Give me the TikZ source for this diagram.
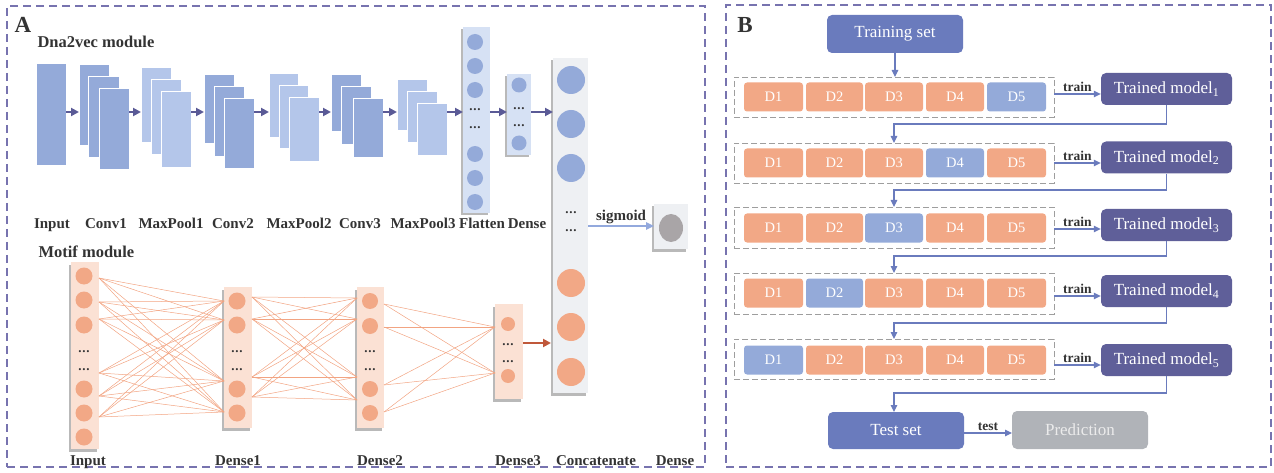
\documentclass[tikz,border=0pt]{standalone}
\usepackage{fontspec}
\setmainfont{Liberation Serif}
\usetikzlibrary{arrows.meta,calc,shadows,shapes.geometric}
\definecolor{frame}{HTML}{7773AF}
\definecolor{cdark}{HTML}{94AAD9}
\definecolor{clight}{HTML}{B4C6EA}
\definecolor{corange}{HTML}{F2A886}
\definecolor{colblue}{HTML}{D6E1F4}
\definecolor{colpeach}{HTML}{FBE1D4}
\definecolor{colgrey}{HTML}{EEF0F3}
\definecolor{arrdark}{HTML}{5A5A96}
\definecolor{arrred}{HTML}{C0583A}
\definecolor{lineor}{HTML}{F2A482}
\definecolor{bblue}{HTML}{6A7BBD}
\definecolor{bdark}{HTML}{5F5F99}
\definecolor{bgrey}{HTML}{B0B3B8}
\definecolor{sigblue}{HTML}{93A9DD}
\definecolor{outgrey}{HTML}{A9A5A7}
\definecolor{txt}{HTML}{333333}
\newcommand{\bx}[7]{\node[#6,anchor=north west,inner sep=0pt,outer sep=0pt,minimum width={(#4-#2)*1pt},minimum height={(#5-#3)*1pt}] (#1) at (#2,#3) {#7};}
\newcommand{\mydots}{\textbf{.\kern0.8pt.\kern0.8pt.}}
\tikzset{
 conv/.style={fill=cdark, draw=white, line width=0.6pt},
 pool/.style={fill=clight, draw=white, line width=0.6pt},
 col/.style={drop shadow={shadow xshift=-2.5pt, shadow yshift=-2.5pt, fill=black!55, opacity=0.5}},
 bc/.style={circle, fill=cdark, inner sep=0pt},
 oc/.style={circle, fill=corange, inner sep=0pt},
 dots/.style={inner sep=0pt, text=txt, font=\fontsize{13}{13}\selectfont},
 arr/.style={draw=arrdark, line width=2pt, -{Triangle[length=8pt,width=8pt]}},
 mlink/.style={draw=lineor, line width=0.5pt},
 lab/.style={anchor=base, text=txt, font=\fontsize{15}{15}\selectfont\bfseries},
 title/.style={anchor=base west, text=txt, font=\fontsize{16.5}{16.5}\selectfont\bfseries},
 panel/.style={draw=frame, line width=1.3pt, dash pattern=on 8pt off 5pt},
 fold/.style={draw=black!38, line width=0.9pt, dash pattern=on 6pt off 3pt},
 cell/.style={rounded corners=3pt, text=white, inner sep=0pt, font=\fontsize{14.5}{14.5}\selectfont},
 bigbox/.style={rounded corners=5pt, text=white, font=\fontsize{17}{17}\selectfont},
 tmbox/.style={rounded corners=5pt, fill=bdark, text=white, inner sep=0pt, minimum width=131pt, minimum height=32pt, font=\fontsize{17}{17}\selectfont},
 barr/.style={draw=bblue, line width=1.1pt, -{Triangle[length=7pt,width=6.5pt]}},
 small/.style={text=txt, font=\fontsize{13.5}{13.5}\selectfont\bfseries, inner sep=1.5pt},
}
\begin{document}
\begin{tikzpicture}[x=1pt,y=-1pt]
\useasboundingbox (0,0) rectangle (1274,473);
% panels
\bx{pa}{7}{6}{705}{467}{panel}{}
\bx{pb}{726}{5}{1271}{467}{panel}{}
\node[text=txt, font=\fontsize{23}{23}\selectfont\bfseries] (la) at (23,25) {A};
\node[text=txt, font=\fontsize{23}{23}\selectfont\bfseries] (lb) at (745,25) {B};
\node[title] (t1) at (34,48) {Dna2vec module};
\node[title] (t2) at (35,257) {Motif module};
% Dna2vec stacks
\bx{in}{36}{63}{66}{165}{conv}{}
\bx{c1a}{79}{64}{109}{145}{conv}{}
\bx{c1b}{88}{76}{119}{157}{conv}{}
\bx{c1c}{99}{88}{129}{169}{conv}{}
\bx{p1a}{141}{67}{171}{142}{pool}{}
\bx{p1b}{151}{79}{181}{154}{pool}{}
\bx{p1c}{161}{91}{191}{167}{pool}{}
\bx{c2a}{204}{74}{234}{143}{conv}{}
\bx{c2b}{214}{86}{244}{156}{conv}{}
\bx{c2c}{224}{98}{254}{168}{conv}{}
\bx{p2a}{269}{73}{298}{137}{pool}{}
\bx{p2b}{279}{85}{308}{148}{pool}{}
\bx{p2c}{289}{97}{319}{161}{pool}{}
\bx{c3a}{331}{74}{361}{131}{conv}{}
\bx{c3b}{341}{86}{371}{144}{conv}{}
\bx{c3c}{353}{98}{383}{157}{conv}{}
\bx{p3a}{397}{79}{427}{130}{pool}{}
\bx{p3b}{407}{91}{437}{142}{pool}{}
\bx{p3c}{417}{103}{447}{155}{pool}{}
% flatten
\bx{flat}{463}{27}{490}{213}{col,fill=colblue}{}
\foreach \i/\y in {1/42,2/66,3/90,4/154,5/178,6/202}{\node[bc, minimum size=16pt] (f\i) at (475,\y) {};}
\node[dots] (fd1) at (475,110) {\mydots};
\node[dots] (fd2) at (475,128) {\mydots};
% dense top
\bx{dt}{507}{74}{531}{155}{col,fill=colblue}{}
\node[bc, minimum size=15pt] (dt1) at (519,85) {};
\node[bc, minimum size=15pt] (dt2) at (519,143) {};
\node[dots] (dtd1) at (519,109) {\mydots};
\node[dots] (dtd2) at (519,126) {\mydots};
% concatenate
\bx{cat}{553}{58}{588}{393}{col,fill=colgrey}{}
\foreach \i/\y in {1/80,2/124,3/168}{\node[bc, minimum size=28pt] (cb\i) at (571,\y) {};}
\foreach \i/\y in {1/283,2/327,3/372}{\node[oc, minimum size=28pt] (co\i) at (571,\y) {};}
\node[dots] (cd1) at (571,213) {\mydots};
\node[dots] (cd2) at (571,231) {\mydots};
% sigmoid output
\bx{sig}{654}{204}{688}{249}{col,fill=colgrey}{}
\node[ellipse, fill=outgrey, inner sep=0pt, minimum width=24pt, minimum height=28pt] (out) at (671,228) {};
% top arrows
\coordinate (ay) at (0,112);
\draw[arr] (in.east|-ay) -- (c1a.west|-ay);
\draw[arr] (c1c.east|-ay) -- (p1a.west|-ay);
\draw[arr] (p1c.east|-ay) -- (c2a.west|-ay);
\draw[arr] (c2c.east|-ay) -- (p2a.west|-ay);
\draw[arr] (p2c.east|-ay) -- (c3a.west|-ay);
\draw[arr] (c3c.east|-ay) -- (p3a.west|-ay);
\draw[arr] (p3c.east|-ay) -- (flat.west|-ay);
\draw[arr] (flat.east|-ay) -- (dt.west|-ay);
\draw[arr] (dt.east|-ay) -- (cat.west|-ay);
\draw[draw=sigblue, line width=1.6pt, -{Triangle[length=8pt,width=7.5pt]}] (cat.east|-0,226) -- (sig.west|-0,226) node[midway, above=0pt, text=txt, font=\fontsize{15}{15}\selectfont\bfseries, inner sep=1.5pt] (sl) {sigmoid};
% top labels
\foreach \n/\x/\t in {l1/52/Input, l2/106/Conv1, l3/171/MaxPool1, l4/233/Conv2, l5/299/MaxPool2, l6/360/Conv3, l7/423/MaxPool3, l8/482/Flatten, l9/527/Dense}{\node[lab] (\n) at (\x,229) {\t};}
% motif columns
\bx{inp}{71}{262}{99}{449}{col,fill=colpeach}{}
\bx{d1}{224}{287}{252}{428}{col,fill=colpeach}{}
\bx{d2}{357}{287}{384}{428}{col,fill=colpeach}{}
\bx{d3}{495}{304}{523}{399}{col,fill=colpeach}{}
% links
\foreach \a in {278,302,319,373,396,417}{\foreach \b in {301,320,381,412}{\draw[mlink] (inp.east|-0,\a) -- (d1.west|-0,\b);}}
\foreach \a in {297,319,377,397}{\foreach \b in {298,319,377,400}{\draw[mlink] (d1.east|-0,\a) -- (d2.west|-0,\b);}}
\foreach \a in {304,327,385,412}{\foreach \b in {327,373}{\draw[mlink] (d2.east|-0,\a) -- (d3.west|-0,\b);}}
% motif circles
\foreach \i/\y in {1/276,2/300,3/325,4/389,5/413,6/437}{\node[oc, minimum size=17pt] (ic\i) at (84,\y) {};}
\node[dots] (idt1) at (84,352) {\mydots};
\node[dots] (idt2) at (84,370) {\mydots};
\foreach \i/\y in {1/301,2/325,3/389,4/413}{\node[oc, minimum size=17pt] (ac\i) at (237,\y) {};}
\node[dots] (adt1) at (237,352) {\mydots};
\node[dots] (adt2) at (237,370) {\mydots};
\foreach \i/\y in {1/301,2/326,3/389,4/413}{\node[oc, minimum size=16pt] (bc\i) at (370,\y) {};}
\node[dots] (bdt1) at (370,352) {\mydots};
\node[dots] (bdt2) at (370,370) {\mydots};
\node[oc, minimum size=14pt] (cc1) at (508,324) {};
\node[oc, minimum size=14pt] (cc2) at (508,376) {};
\node[dots] (cdt1) at (508,345) {\mydots};
\node[dots] (cdt2) at (508,362) {\mydots};
\draw[draw=arrred, line width=2pt, -{Triangle[length=8pt,width=8pt]}] (d3.east|-0,343) -- ($(cat.west|-0,343)+(-2,0)$);
% bottom labels
\foreach \n/\x/\t in {m1/88/Input, m2/238/Dense1, m3/380/Dense2, m4/518/Dense3, m5/596/Concatenate, m6/675/Dense}{\node[lab] (\n) at (\x,465) {\t};}
% ---------------- panel B
\bx{train}{827}{15}{963}{53}{bigbox,fill=bblue}{Training set}
\foreach \r/\ya/\yb in {1/77/117, 2/143/183, 3/207/248, 4/273/314, 5/339/379}{\bx{r\r}{734}{\ya}{1054}{\yb}{fold}{}}
\foreach \r/\cy/\bl in {1/97/5, 2/163/4, 3/228/3, 4/293/2, 5/360/1}{
  \foreach \c/\xa/\xb in {1/744/803, 2/806/863, 3/865/923, 4/926/984, 5/987/1046}{
    \def\cc{corange}\ifnum\c=\bl\relax\def\cc{cdark}\fi
    \node[cell, fill=\cc, minimum width={(\xb-\xa)*1pt}, minimum height=29pt] (c\r\c) at ({(\xa+\xb)/2},\cy) {D\c};
  }
}
\foreach \r/\cy in {1/89, 2/157.5, 3/225, 4/291, 5/360}{\node[tmbox] (tm\r) at (1166.5,\cy) {Trained model\textsubscript{\r}};}
\foreach \r/\ay in {1/94, 2/163, 3/229, 4/296, 5/365}{\draw[barr] (r\r.east|-0,\ay) -- (tm\r.west|-0,\ay) node[pos=0.5, above, small] (tl\r) {train};}
\draw[barr] (train.south) -- (train.south|-r1.north);
\draw[barr] (tm1.south) -- (tm1.south|-0,124) -| (r2.north-|c23.center);
\draw[barr] (tm2.south) -- (tm2.south|-0,190) -| (r3.north-|c33.center);
\draw[barr] (tm3.south) -- (tm3.south|-0,256) -| (r4.north-|c43.center);
\draw[barr] (tm4.south) -- (tm4.south|-0,323) -| (r5.north-|c53.center);
\bx{test}{828}{412}{964}{449}{bigbox,fill=bblue}{Test set}
\bx{pred}{1012}{411}{1148}{449}{bigbox,fill=bgrey,text=white!92!black}{Prediction}
\draw[barr] (tm5.south) -- (tm5.south|-0,393) -| (test.north-|c53.center);
\draw[barr] (test.east|-0,433) -- (pred.west|-0,433) node[pos=0.5, above, small] (tt) {test};
\end{tikzpicture}
\end{document}
